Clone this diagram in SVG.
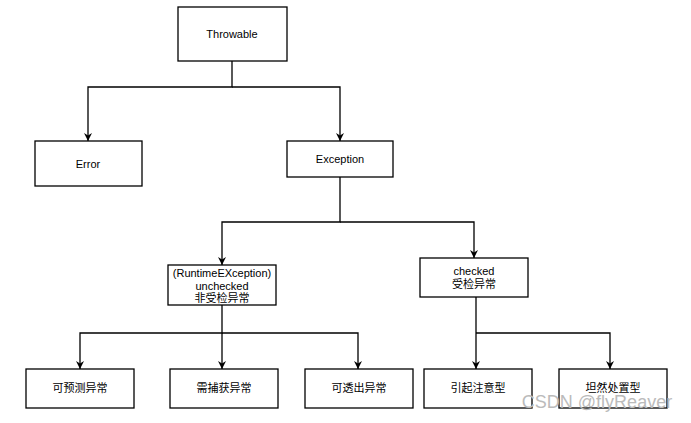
<svg xmlns="http://www.w3.org/2000/svg" width="691" height="423" viewBox="0 0 691 423">
<style>
.b{fill:#fff;stroke:#000;stroke-width:1.3}
.t{font-family:"Liberation Sans","Noto Sans CJK SC",sans-serif;font-size:11px;fill:#000;text-anchor:middle}
.c{fill:none;stroke:#000;stroke-width:1.3}
</style>
<defs><marker id="a" viewBox="0 0 10 10" refX="10" refY="5" markerWidth="8" markerHeight="8" markerUnits="userSpaceOnUse" orient="auto"><path d="M0,0L10,5L0,10L3,5z" fill="#000"/></marker></defs>
<rect width="691" height="423" fill="#fff"/>
<g id="connectors">
<path class="c" d="M232,61V87H88V141" marker-end="url(#a)"/>
<path class="c" d="M232,87H340V141" marker-end="url(#a)"/>
<path class="c" d="M340,177V222H222V265" marker-end="url(#a)"/>
<path class="c" d="M340,222H474V258" marker-end="url(#a)"/>
<path class="c" d="M222,305V333H80V369" marker-end="url(#a)"/>
<path class="c" d="M222,333V369" marker-end="url(#a)"/>
<path class="c" d="M222,333H358V369" marker-end="url(#a)"/>
<path class="c" d="M476,297V369" marker-end="url(#a)"/>
<path class="c" d="M476,333H610V369" marker-end="url(#a)"/>
</g>
<g id="throwable"><rect class="b" x="178" y="7" width="109" height="54"/><text class="t" x="232" y="38">Throwable</text></g>
<g id="error"><rect class="b" x="35" y="141" width="107" height="45"/><text class="t" x="88" y="168">Error</text></g>
<g id="exception"><rect class="b" x="287" y="141" width="106" height="36"/><text class="t" x="340" y="163">Exception</text></g>
<g id="unchecked"><rect class="b" x="168" y="265" width="108" height="40"/><text class="t" x="222" y="277">(RuntimeEXception)</text><text class="t" x="222" y="290">unchecked</text><text class="t" x="222" y="302">非受检异常</text></g>
<g id="checked"><rect class="b" x="420" y="258" width="108" height="39"/><text class="t" x="474" y="275">checked</text><text class="t" x="474" y="288">受检异常</text></g>
<g id="n1"><rect class="b" x="26" y="369" width="108" height="39"/><text class="t" x="80" y="392">可预测异常</text></g>
<g id="n2"><rect class="b" x="170" y="369" width="108" height="39"/><text class="t" x="224" y="392">需捕获异常</text></g>
<g id="n3"><rect class="b" x="305" y="369" width="108" height="39"/><text class="t" x="359" y="392">可透出异常</text></g>
<g id="n4"><rect class="b" x="424" y="369" width="108" height="39"/><text class="t" x="478" y="392">引起注意型</text></g>
<g id="n5"><rect class="b" x="559" y="369" width="108" height="39"/><text class="t" x="613" y="392">坦然处置型</text></g>
<text x="597" y="408" font-family="Liberation Sans,sans-serif" font-size="18" fill="#bbb" text-anchor="middle">CSDN @flyReaver</text>
</svg>
